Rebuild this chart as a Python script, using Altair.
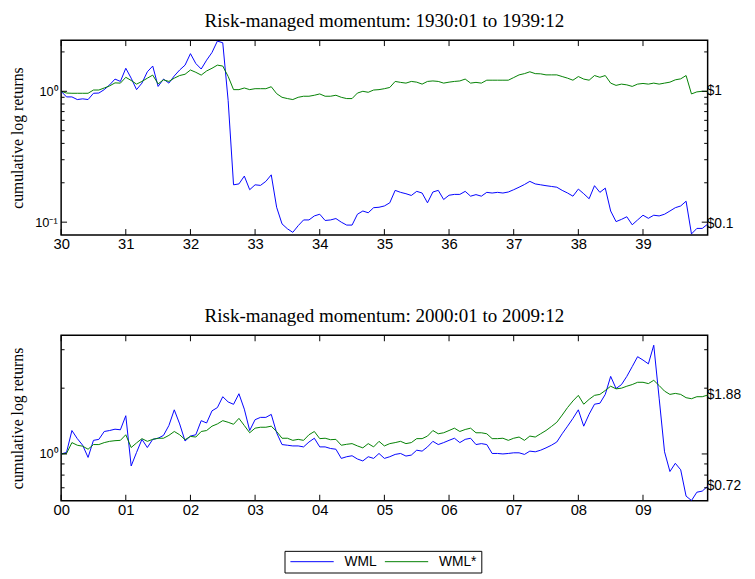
import altair as alt
import pandas as pd

SANS = "Liberation Sans"
SERIF = "Liberation Serif"

# ---------------- data ----------------
series_names = ["WML", "WML*"]
series_colors = ["#0000ff", "#008000"]

# Panel 1: 1930:01 - 1939:12 (monthly cumulative value of $1)
p1_start = 1930
p1_title = "Risk-managed momentum: 1930:01 to 1939:12"
p1_wml = [
    1.0, 0.906, 0.906, 0.865, 0.876, 0.865, 0.966, 0.97, 1.03, 1.12, 1.24, 1.19,
    1.50, 1.26, 1.03, 1.155, 1.41, 1.56, 1.09, 1.24, 1.155, 1.31, 1.455, 1.585,
    1.94, 1.63, 1.48, 1.73, 1.98, 2.42, 2.35, 0.85, 0.193, 0.196, 0.225, 0.177,
    0.193, 0.191, 0.205, 0.23, 0.13, 0.097, 0.089, 0.0836, 0.094, 0.104, 0.104, 0.1116,
    0.115, 0.103, 0.104, 0.1066, 0.1, 0.095, 0.095, 0.115, 0.1217, 0.118, 0.129, 0.13,
    0.133, 0.1406, 0.175, 0.169, 0.165, 0.16, 0.172, 0.167, 0.1406, 0.17, 0.175, 0.149,
    0.1606, 0.163, 0.163, 0.172, 0.158, 0.1624, 0.158, 0.169, 0.167, 0.169, 0.167, 0.17,
    0.177, 0.185, 0.194, 0.205, 0.196, 0.193, 0.19, 0.1875, 0.185, 0.175, 0.167, 0.158,
    0.179, 0.165, 0.151, 0.19, 0.169, 0.182, 0.1217, 0.101, 0.105, 0.11, 0.0955, 0.104,
    0.113, 0.107, 0.113, 0.1116, 0.115, 0.1217, 0.129, 0.133, 0.1446, 0.0813, 0.0896, 0.0896,
    0.0966,
]
p1_wmls = [
    1.0, 0.97, 0.966, 0.966, 0.966, 0.966, 1.023, 1.023, 1.06, 1.10, 1.16, 1.155,
    1.28, 1.21, 1.135, 1.19, 1.26, 1.33, 1.14, 1.224, 1.19, 1.26, 1.32, 1.35,
    1.455, 1.397, 1.33, 1.43, 1.50, 1.585, 1.56, 1.30, 1.03, 1.03, 1.06, 1.03,
    1.047, 1.047, 1.047, 1.084, 0.96, 0.90, 0.88, 0.865, 0.90, 0.917, 0.917, 0.933,
    0.955, 0.917, 0.917, 0.933, 0.90, 0.88, 0.88, 0.97, 1.0, 0.983, 1.023, 1.03,
    1.047, 1.07, 1.19, 1.17, 1.155, 1.19, 1.175, 1.135, 1.19, 1.20, 1.19, 1.155,
    1.175, 1.19, 1.20, 1.24, 1.155, 1.17, 1.155, 1.216, 1.216, 1.216, 1.216, 1.216,
    1.274, 1.335, 1.365, 1.41, 1.365, 1.36, 1.335, 1.335, 1.335, 1.297, 1.26, 1.216,
    1.297, 1.24, 1.216, 1.32, 1.28, 1.32, 1.155, 1.11, 1.135, 1.12, 1.09, 1.135,
    1.148, 1.135, 1.155, 1.135, 1.155, 1.175, 1.224, 1.245, 1.32, 0.955, 0.99, 1.0,
    1.0,
]
p1_ydomain = [0.0798, 2.46]
p1_ymajor = [0.1, 1.0]
p1_ymajor_labels = ["10\u207b\u00b9", "10\u2070"]
p1_yminor = [0.2, 0.3, 0.4, 0.5, 0.6, 0.7, 0.8, 0.9, 2.0]
p1_xticks = [1930, 1931, 1932, 1933, 1934, 1935, 1936, 1937, 1938, 1939]
p1_xlabels = ["30", "31", "32", "33", "34", "35", "36", "37", "38", "39"]
p1_end_labels = ["$0.1", "$1"]

# Panel 2: 2000:01 - 2009:12
p2_start = 2000
p2_title = "Risk-managed momentum: 2000:01 to 2009:12"
p2_wml = [
    1.0, 1.016, 1.28, 1.175, 1.096, 0.964, 1.154, 1.166, 1.267, 1.28, 1.298, 1.29,
    1.496, 0.881, 1.016, 1.166, 1.07, 1.166, 1.18, 1.216, 1.349, 1.592, 1.372, 1.146,
    1.207, 1.224, 1.42, 1.386, 1.575, 1.63, 1.828, 1.73, 1.687, 1.886, 1.603, 1.28,
    1.435, 1.47, 1.47, 1.517, 1.25, 1.104, 1.096, 1.088, 1.088, 1.077, 1.134, 1.18,
    1.077, 1.077, 1.059, 1.051, 0.954, 0.971, 0.981, 0.948, 0.929, 0.971, 0.954, 1.005,
    0.954, 0.971, 0.995, 1.005, 0.978, 0.988, 1.04, 1.03, 1.077, 1.142, 1.104, 1.127,
    1.154, 1.18, 1.127, 1.166, 1.18, 1.104, 1.115, 1.104, 1.005, 1.005, 1.0, 1.005,
    1.012, 1.012, 0.995, 1.03, 1.023, 1.04, 1.066, 1.096, 1.134, 1.237, 1.34, 1.455,
    1.592, 1.34, 1.52, 1.689, 1.706, 1.873, 2.265, 1.993, 2.076, 2.265, 2.51, 2.787,
    2.69, 2.584, 3.145, 1.8, 1.023, 0.831, 0.906, 0.846, 0.641, 0.612, 0.668, 0.676,
    0.711,
]
p2_wmls = [
    1.0, 1.005, 1.127, 1.096, 1.085, 1.051, 1.104, 1.104, 1.127, 1.142, 1.15, 1.154,
    1.224, 1.07, 1.123, 1.175, 1.142, 1.166, 1.18, 1.18, 1.216, 1.267, 1.224, 1.162,
    1.203, 1.195, 1.267, 1.28, 1.34, 1.372, 1.42, 1.396, 1.367, 1.455, 1.349, 1.25,
    1.312, 1.325, 1.325, 1.34, 1.267, 1.18, 1.18, 1.154, 1.166, 1.154, 1.224, 1.267,
    1.175, 1.18, 1.162, 1.166, 1.096, 1.107, 1.115, 1.088, 1.066, 1.115, 1.077, 1.142,
    1.088, 1.115, 1.127, 1.142, 1.115, 1.127, 1.175, 1.175, 1.207, 1.28, 1.237, 1.25,
    1.28, 1.312, 1.267, 1.294, 1.312, 1.25, 1.25, 1.237, 1.175, 1.175, 1.18, 1.154,
    1.18, 1.195, 1.154, 1.207, 1.195, 1.237, 1.28, 1.335, 1.396, 1.506, 1.631, 1.748,
    1.854, 1.689, 1.778, 1.854, 1.873, 1.952, 2.042, 1.986, 2.0, 2.042, 2.078, 2.128,
    2.128, 2.099, 2.173, 2.056, 1.939, 1.873, 1.893, 1.873, 1.809, 1.79, 1.828, 1.828,
    1.86,
]
p2_ydomain = [0.611, 3.49]
p2_ymajor = [1.0]
p2_ymajor_labels = ["10\u2070"]
p2_yminor = [0.7, 0.8, 0.9, 2.0, 3.0]
p2_xticks = [2000, 2001, 2002, 2003, 2004, 2005, 2006, 2007, 2008, 2009]
p2_xlabels = ["00", "01", "02", "03", "04", "05", "06", "07", "08", "09"]
p2_end_labels = ["$0.72", "$1.88"]

W = 657
MAJ = 6
MIN = 3.5


def label_expr(values, labels):
    expr = "''"
    for v, lab in zip(values, labels):
        expr = f"abs(datum.value - {v}) < 1e-6 ? '{lab}' : ({expr})"
    return expr


def panel(start, wml, wmls, ydom, ymaj, ymaj_labels, ymin, xticks, xlabels,
          end_labels, title, H, show_legend):
    n = len(wml)
    t = [start + i / 12 for i in range(n)]
    df = pd.DataFrame({
        "t": t + t,
        "v": wml + wmls,
        "series": [series_names[0]] * n + [series_names[1]] * n,
    })
    xs = alt.Scale(domain=[start, start + 10], nice=False, zero=False)
    ys = alt.Scale(type="log", domain=ydom, nice=False)

    xaxis = alt.Axis(values=xticks, labelExpr=label_expr(xticks, xlabels),
                     ticks=False, domain=False, grid=False, title=None,
                     labelFont=SANS, labelFontSize=15, labelColor="black",
                     labelPadding=2, labelFlush=False, labelOverlap=False)
    yaxis = alt.Axis(values=ymaj, labelExpr=label_expr(ymaj, ymaj_labels),
                     ticks=False, domain=False, grid=False,
                     title="cumulative log returns", titleFont=SERIF,
                     titleFontSize=16, titleFontWeight="normal", titleColor="black",
                     titlePadding=9, minExtent=27, maxExtent=27,
                     labelFont=SANS, labelFontSize=13, labelColor="black",
                     labelPadding=4, labelFlush=False, labelOverlap=False)

    X = lambda: alt.X("t:Q", scale=xs, axis=xaxis, title=None)
    Y = lambda: alt.Y("v:Q", scale=ys, axis=yaxis, title="cumulative log returns")

    if show_legend:
        legend = alt.Legend(title=None, orient="none", legendX=227, legendY=219,
                            direction="horizontal", symbolType="M-4,0H4",
                            symbolSize=121, symbolStrokeWidth=1,
                            symbolOffset=17, labelOffset=26,
                            labelFont=SANS, labelFontSize=14, labelColor="black",
                            columnPadding=6, padding=4,
                            strokeColor="black", fillColor="white")
    else:
        legend = None

    lines = alt.Chart(df).mark_line(strokeWidth=1, clip=True).encode(
        x=X(), y=Y(),
        color=alt.Color("series:N",
                        scale=alt.Scale(domain=series_names, range=series_colors),
                        legend=legend),
    )

    dfx = pd.DataFrame({"t": xticks})
    xt_top = alt.Chart(dfx).mark_rule(color="black", strokeWidth=1).encode(
        x=X(), y=alt.value(0), y2=alt.value(MAJ))
    xt_bot = alt.Chart(dfx).mark_rule(color="black", strokeWidth=1).encode(
        x=X(), y=alt.value(H), y2=alt.value(H - MAJ))

    dfmaj = pd.DataFrame({"v": ymaj})
    dfmin = pd.DataFrame({"v": ymin})
    layers = [lines, xt_top, xt_bot]
    for d, ln in ((dfmaj, MAJ), (dfmin, MIN)):
        layers.append(alt.Chart(d).mark_rule(color="black", strokeWidth=1).encode(
            y=Y(), x=alt.value(0), x2=alt.value(ln)))
        layers.append(alt.Chart(d).mark_rule(color="black", strokeWidth=1).encode(
            y=Y(), x=alt.value(W), x2=alt.value(W - ln)))

    dflab = pd.DataFrame({"t": [start + 10, start + 10],
                          "v": [wml[-1], wmls[-1]], "lab": end_labels})
    labs = alt.Chart(dflab).mark_text(align="left", baseline="middle", font=SANS,
                                      fontSize=14, color="black", dx=-1).encode(
        x=X(), y=Y(), text="lab:N",
    )
    layers.append(labs)

    return alt.layer(*layers).properties(
        width=W, height=H,
        title=alt.TitleParams(title, font=SERIF, fontSize=19.3, fontWeight="normal",
                              color="black", anchor="middle", frame="group",
                              baseline="alphabetic", offset=-6),
    )


top = panel(p1_start, p1_wml, p1_wmls, p1_ydomain, p1_ymajor, p1_ymajor_labels,
            p1_yminor, p1_xticks, p1_xlabels, p1_end_labels, p1_title, 198, False)
bottom = panel(p2_start, p2_wml, p2_wmls, p2_ydomain, p2_ymajor, p2_ymajor_labels,
               p2_yminor, p2_xticks, p2_xlabels, p2_end_labels, p2_title, 168, True)

chart = alt.vconcat(top, bottom, spacing=54).resolve_scale(
    color="independent", x="independent", y="independent"
).resolve_legend(color="independent").properties(
    padding={"left": 1, "top": -2, "right": 5, "bottom": 5},
    background="white",
).configure_view(stroke="black", strokeWidth=1.5)

chart.save("out.html", embed_options={"renderer": "svg", "actions": False})
